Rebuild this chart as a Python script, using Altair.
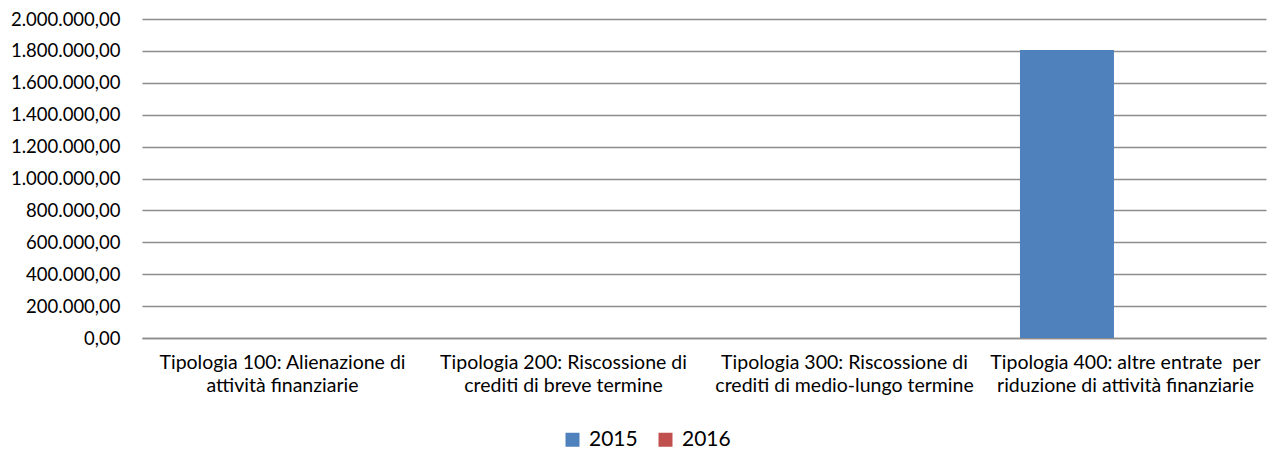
import altair as alt
import pandas as pd

categories = [
    "Tipologia 100: Alienazione di|attività finanziarie",
    "Tipologia 200: Riscossione di|crediti di breve termine",
    "Tipologia 300: Riscossione di|crediti di medio-lungo termine",
    "Tipologia 400: altre entrate\u00a0 per|riduzione di attività finanziarie",
]
years = ["2015", "2016"]
values_2015 = [0, 0, 0, 1806000]
values_2016 = [0, 0, 0, 0]
colors = ["#4F81BD", "#C0504D"]
y_ticks = list(range(0, 2000001, 200000))

rows = []
for c, v in zip(categories, values_2015):
    rows.append({"cat": c, "anno": "2015", "valore": v})
for c, v in zip(categories, values_2016):
    rows.append({"cat": c, "anno": "2016", "valore": v})
df = pd.DataFrame(rows)

FONT = "Lato"

chart = alt.Chart(df).mark_bar().encode(
    x=alt.X(
        "cat:N",
        sort=categories,
        title=None,
        scale=alt.Scale(paddingInner=0, paddingOuter=0),
        axis=alt.Axis(
            labelExpr="split(datum.label, '|')",
            labelAngle=0,
            labelFontSize=19.5,
            labelFont=FONT,
            labelColor="#000000",
            labelLineHeight=23.5,
            labelPadding=15,
            ticks=False,
            domain=True,
            domainColor="#8c8c8c",
            domainWidth=1.4,
            grid=False,
            labelLimit=400,
        ),
    ),
    xOffset=alt.XOffset(
        "anno:N",
        sort=years,
        scale=alt.Scale(paddingInner=0, paddingOuter=0.4947, align=0.376),
    ),
    y=alt.Y(
        "valore:Q",
        title=None,
        scale=alt.Scale(domain=[0, 2000000], nice=False),
        axis=alt.Axis(
            values=y_ticks,
            labelExpr="join(split(format(datum.value, ',.0f'), ','), '.') + ',00'",
            labelFontSize=18.5,
            labelFont=FONT,
            labelColor="#000000",
            labelPadding=22,
            ticks=False,
            tickSize=0,
            domain=False,
            grid=True,
            gridColor="#8c8c8c",
            gridWidth=1.4,
        ),
    ),
    color=alt.Color(
        "anno:N",
        sort=years,
        scale=alt.Scale(domain=years, range=colors),
        legend=alt.Legend(
            title=None,
            orient="none",
            legendX=420,
            legendY=410,
            direction="horizontal",
            symbolType="square",
            symbolSize=196,
            symbolStrokeWidth=0,
            symbolOpacity=1,
            labelFontSize=21,
            labelFont=FONT,
            labelColor="#000000",
            labelOffset=6,
            columnPadding=17,
            padding=0,
        ),
    ),
).properties(
    width=1124,
    height=319,
    autosize=alt.AutoSizeParams(type="none"),
    padding={"left": 134, "top": 11, "right": 1, "bottom": 115},
).configure_view(stroke=None)

chart.save("out.html", embed_options={"renderer": "svg", "actions": False})
